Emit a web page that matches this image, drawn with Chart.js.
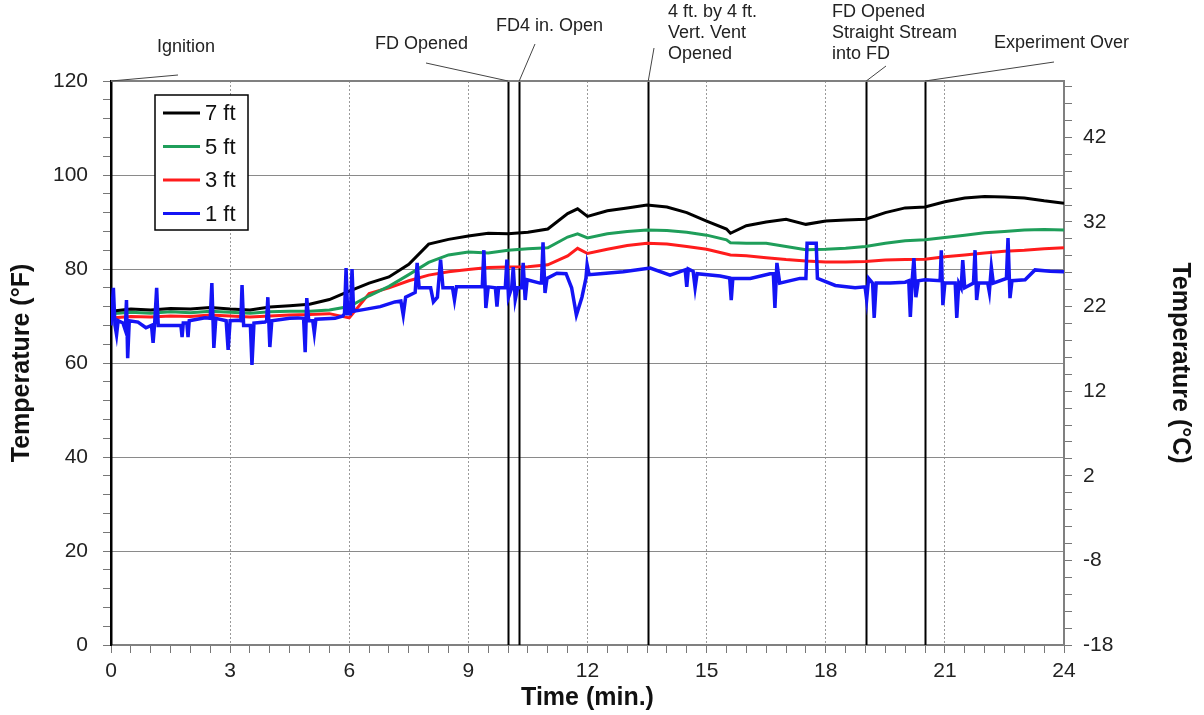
<!DOCTYPE html>
<html>
<head>
<meta charset="utf-8">
<title>Temperature vs Time</title>
<script src="https://cdn.jsdelivr.net/npm/chart.js@4.4.1/dist/chart.umd.min.js"></script>
<style>
  html, body { margin: 0; padding: 0; background: #fff; }
  #wrap { width: 1204px; height: 715px; }
</style>
</head>
<body>
<div id="wrap"><canvas id="tempChart" width="1204" height="715"></canvas></div>
<script>
// time (min.) for the 7, 5 and 3 ft thermocouples
const timeUpper = [0,0.5,1,1.5,2,2.5,3,3.5,4,4.5,5,5.5,6,6.5,7,7.5,8,8.5,9,9.5,10,10.5,11,11.5,11.75,12,12.5,13,13.5,14,14.5,15,15.5,15.6,16,16.5,17,17.5,18,18.5,19,19.5,20,20.5,21,21.5,22,22.5,23,23.5,24];
const temp7ft = [71,71.5,71.3,71.6,71.5,71.8,71.5,71.3,71.9,72.2,72.5,73.5,75.3,77,78.3,81,85.3,86.3,87,87.6,87.5,87.8,88.5,91.8,92.8,91.2,92.4,93,93.6,93.2,92,90.2,88.5,87.6,89.2,90,90.6,89.5,90.2,90.4,90.6,92,93,93.2,94.3,95.1,95.4,95.3,95.1,94.5,94];
const temp5ft = [70.5,70.8,70.6,70.9,70.7,71,70.8,70.6,70.9,71,71,71.3,72,74.3,76.3,78.8,81.4,83,83.6,83.4,84,84.3,84.5,86.8,87.5,86.6,87.5,88,88.3,88.2,87.8,87.2,86.2,85.6,85.5,85.5,84.8,84.1,84.2,84.4,84.8,85.5,86,86.2,86.7,87.2,87.7,88,88.3,88.4,88.3];
const temp3ft = [69.6,69.9,69.8,70,69.9,70.2,70,69.8,70,70.2,70.3,70.5,69.6,74.8,76,77.5,78.7,79.4,79.9,80.3,80.4,80.5,80.9,82.8,84.4,83.3,84.2,85,85.5,85.3,84.8,84.2,83.2,83,82.8,82.4,82,81.7,81.5,81.5,81.6,81.9,82,82.1,82.6,83,83.4,83.8,84,84.3,84.5];

// time (min.) for the 1 ft thermocouple (spiky trace)
const timeLow = [
  0,0.03,0.06,0.1,0.14,0.18,0.3,0.36,0.39,0.42,
  0.46,0.68,0.88,1.02,1.06,1.1,1.15,1.19,1.54,1.76,
  1.79,1.82,1.91,1.94,1.97,2.37,2.5,2.54,2.59,2.64,
  2.9,2.95,3.0,3.2,3.27,3.3,3.34,3.51,3.55,3.6,
  3.88,3.92,3.95,4.0,4.05,4.5,4.71,4.85,4.89,4.93,
  4.98,5.08,5.12,5.16,5.64,5.84,5.88,5.92,5.96,6.03,
  6.07,6.11,6.32,6.78,7.15,7.3,7.36,7.42,7.66,7.71,
  7.76,8.05,8.12,8.22,8.3,8.36,8.6,8.65,8.7,9.35,
  9.39,9.44,9.5,9.68,9.72,9.76,9.93,9.97,10.01,10.09,
  10.13,10.18,10.24,10.34,10.38,10.43,10.48,10.8,10.84,10.88,
  10.93,10.98,11.23,11.46,11.6,11.72,11.86,11.96,11.99,12.04,
  12.32,12.9,13.58,14.08,14.46,14.5,14.54,14.66,14.71,14.76,
  15.34,15.58,15.62,15.66,16.1,16.6,16.68,16.72,16.77,16.84,
  17.35,17.5,17.53,17.76,17.79,18.24,18.74,18.99,19.03,19.08,
  19.18,19.22,19.27,19.62,20.0,20.09,20.13,20.18,20.22,20.27,
  20.33,20.5,20.88,20.91,20.95,21.0,21.26,21.3,21.35,21.41,
  21.45,21.5,21.72,21.76,21.8,21.85,22.08,22.12,22.17,22.22,
  22.55,22.59,22.64,22.69,23.02,23.27,23.65,24
];
const temp1ft = [
  68,72,76,68,66,69,68.5,67,73.4,61,
  69,68.7,67.5,68,64.3,68.5,76,68,68,68,
  65.5,68.5,68.5,65.5,69,69.6,69.5,77,63.2,69.5,
  69,62.8,69,69.1,69,76.6,68,68,59.6,68.5,
  68.7,69,74,63.4,69,69.5,69.6,69.5,62.3,73.8,
  69,69,66.4,69.3,69.5,70,70.5,80.2,70.5,70.5,
  80,71,71.3,72,73,73.2,70.2,74,75,81.3,
  76,76,73,74,82,76,76,73.4,76.2,76.2,
  84,71.7,76.2,76,72,76,76,82,74,76,
  80.4,73.5,76,76,81.3,73.4,77.7,77,77,85.7,
  74.9,78,79.1,79,76,70.2,74,78,80.9,78.8,
  79,79.4,80.2,78.7,79.8,76.2,80,79.5,76,79,
  78.5,78.1,73.4,78,78,79,79,71.7,81.3,77,
  78,78,85.5,85.5,78,76.5,76,76.2,73.5,78,
  77,69.6,77,77,77.2,77.5,69.8,78,82.3,74,
  77.5,77.7,77.5,84,72.3,77,77,69.6,77,76,
  81.9,76,77,84,73.4,77,77,75.1,80.4,77,
  78,86.6,73.8,77.5,77.7,79.8,79.5,79.4
];

// events marked on the plot
const eventTimes = [0, 10.0, 10.28, 13.53, 19.02, 20.5];
const eventLabels = [
  ['Ignition'],
  ['FD Opened'],
  ['FD4 in. Open'],
  ['4 ft. by 4 ft.', 'Vert. Vent', 'Opened'],
  ['FD Opened', 'Straight Stream', 'into FD'],
  ['Experiment Over']
];

// tick labels
const fahrenheitTicks = [0, 20, 40, 60, 80, 100, 120];
const minuteTicks = [0, 3, 6, 9, 12, 15, 18, 21, 24];
const celsiusLabels = [-18, -8, 2, 12, 22, 32, 42];

// where each callout text sits and where its leader starts (pixels)
const calloutLayout = [
  { x: 157, y: 47, lx: 178, ly: 75 },
  { x: 375, y: 44, lx: 426, ly: 63 },
  { x: 496, y: 26, lx: 535, ly: 44 },
  { x: 668, y: 12, lx: 654, ly: 48 },
  { x: 832, y: 12, lx: 886, ly: 66 },
  { x: 994, y: 43, lx: 1054, ly: 62 }
];

const F_MIN = 0, F_MAX = 120;
const C_MIN = (F_MIN - 32) * 5 / 9;
const C_MAX = (F_MAX - 32) * 5 / 9;
const FONT = '"Liberation Sans", Arial, sans-serif';

function pts(xs, ys) {
  return xs.map((x, i) => ({ x: x, y: ys[i] }));
}

const eventsPlugin = {
  id: 'events',
  beforeDatasetsDraw(chart) {
    const ctx = chart.ctx, a = chart.chartArea, xs = chart.scales.x;
    ctx.save();
    ctx.strokeStyle = '#000';
    ctx.lineWidth = 2;
    eventTimes.forEach(t => {
      const px = Math.round(xs.getPixelForValue(t)) + 0.5;
      ctx.beginPath();
      ctx.moveTo(px, a.top);
      ctx.lineTo(px, a.bottom);
      ctx.stroke();
    });
    ctx.restore();
  },
  afterDraw(chart) {
    const ctx = chart.ctx, a = chart.chartArea, xs = chart.scales.x;
    ctx.save();
    // top frame line
    ctx.strokeStyle = '#808080';
    ctx.lineWidth = 2;
    ctx.beginPath();
    ctx.moveTo(a.left, a.top);
    ctx.lineTo(a.right, a.top);
    ctx.stroke();

    // callouts
    ctx.font = '18px ' + FONT;
    ctx.fillStyle = '#222';
    ctx.textBaseline = 'middle';
    ctx.textAlign = 'left';
    ctx.strokeStyle = '#444';
    ctx.lineWidth = 1;
    eventLabels.forEach((lines, i) => {
      const c = calloutLayout[i];
      lines.forEach((s, j) => ctx.fillText(s, c.x, c.y + j * 21));
      const px = xs.getPixelForValue(eventTimes[i]);
      ctx.beginPath();
      ctx.moveTo(c.lx, c.ly);
      ctx.lineTo(px, a.top);
      ctx.stroke();
    });

    // legend box inside the plot
    const bx = a.left + 44, by = a.top + 14, bw = 93, bh = 135;
    ctx.fillStyle = '#fff';
    ctx.fillRect(bx, by, bw, bh);
    ctx.strokeStyle = '#000';
    ctx.lineWidth = 1.5;
    ctx.strokeRect(bx, by, bw, bh);
    ctx.font = '22px ' + FONT;
    ctx.fillStyle = '#111';
    chart.data.datasets.forEach((ds, i) => {
      const yy = by + 18 + i * 33.5;
      ctx.strokeStyle = ds.borderColor;
      ctx.lineWidth = 3;
      ctx.beginPath();
      ctx.moveTo(bx + 8, yy);
      ctx.lineTo(bx + 45, yy);
      ctx.stroke();
      ctx.fillText(ds.label, bx + 50, yy + 1);
    });
    ctx.restore();
  }
};

const datasets = [
  { label: '7 ft', data: pts(timeUpper, temp7ft), borderColor: '#000000', order: 1 },
  { label: '5 ft', data: pts(timeUpper, temp5ft), borderColor: '#1f9e5a', order: 2 },
  { label: '3 ft', data: pts(timeUpper, temp3ft), borderColor: '#ff1c1c', order: 3 },
  { label: '1 ft', data: pts(timeLow, temp1ft), borderColor: '#1414f5', order: 0, borderWidth: 3.5 }
];
datasets.forEach(d => {
  d.borderWidth = d.borderWidth || 3;
  d.pointRadius = 0;
  d.tension = 0;
  d.fill = false;
  d.yAxisID = 'y';
});

new Chart(document.getElementById('tempChart').getContext('2d'), {
  type: 'line',
  data: { datasets: datasets },
  options: {
    responsive: false,
    animation: false,
    layout: { padding: { top: 81, left: 0, right: 0, bottom: 0 } },
    plugins: { legend: { display: false }, tooltip: { enabled: false } },
    scales: {
      x: {
        type: 'linear',
        min: 0, max: 24,
        afterBuildTicks: s => {
          const t = [];
          for (let v = 0; v <= 24; v += 0.5) t.push({ value: v });
          s.ticks = t;
        },
        afterFit: s => { s.height = 70; },
        ticks: {
          autoSkip: false, maxRotation: 0, padding: 6,
          color: '#222', font: { family: FONT, size: 21 },
          callback: v => minuteTicks.includes(v) ? String(v) : ''
        },
        grid: {
          color: c => (minuteTicks.includes(c.tick.value) && c.tick.value > 0 && c.tick.value < 24) ? '#9a9a9a' : 'rgba(0,0,0,0)',
          lineWidth: 1, tickLength: 8, tickColor: '#777', tickWidth: 1
        },
        border: { color: '#808080', width: 2, dash: [2, 2] },
        title: {
          display: true, text: 'Time (min.)', color: '#111',
          font: { family: FONT, size: 25, weight: 'bold' },
          padding: { top: 0, bottom: 2 }
        }
      },
      y: {
        position: 'left',
        min: F_MIN, max: F_MAX,
        afterBuildTicks: s => {
          const t = [];
          for (let v = F_MIN; v <= F_MAX; v += 4) t.push({ value: v });
          s.ticks = t;
        },
        afterFit: s => { s.width = 111; },
        ticks: {
          autoSkip: false, padding: 15,
          color: '#222', font: { family: FONT, size: 21 },
          callback: v => fahrenheitTicks.includes(v) ? String(v) : ''
        },
        grid: {
          color: c => (fahrenheitTicks.includes(c.tick.value) && c.tick.value > F_MIN && c.tick.value < F_MAX) ? '#8a8a8a' : 'rgba(0,0,0,0)',
          lineWidth: 1, tickLength: 8, tickColor: '#777', tickWidth: 1
        },
        border: { color: '#000', width: 2 },
        title: {
          display: true, text: 'Temperature (°F)', color: '#111',
          font: { family: FONT, size: 25, weight: 'bold' },
          padding: { top: 7, bottom: 0 }
        }
      },
      y2: {
        position: 'right',
        min: C_MIN, max: C_MAX,
        afterBuildTicks: s => {
          const t = [];
          for (let v = C_MIN; v <= C_MAX + 1e-6; v += 2) t.push({ value: v });
          s.ticks = t;
        },
        afterFit: s => { s.width = 140; },
        ticks: {
          autoSkip: false, padding: 11,
          color: '#222', font: { family: FONT, size: 21 },
          callback: (v, i) => (i % 5 === 0 && celsiusLabels[i / 5] !== undefined) ? String(celsiusLabels[i / 5]) : ''
        },
        grid: { drawOnChartArea: false, tickLength: 8, tickColor: '#777', tickWidth: 1 },
        border: { color: '#808080', width: 2 },
        title: {
          display: true, text: 'Temperature (°C)', color: '#111',
          font: { family: FONT, size: 25, weight: 'bold' },
          padding: { top: 9, bottom: 0 }
        }
      }
    }
  },
  plugins: [eventsPlugin]
});
</script>
</body>
</html>
